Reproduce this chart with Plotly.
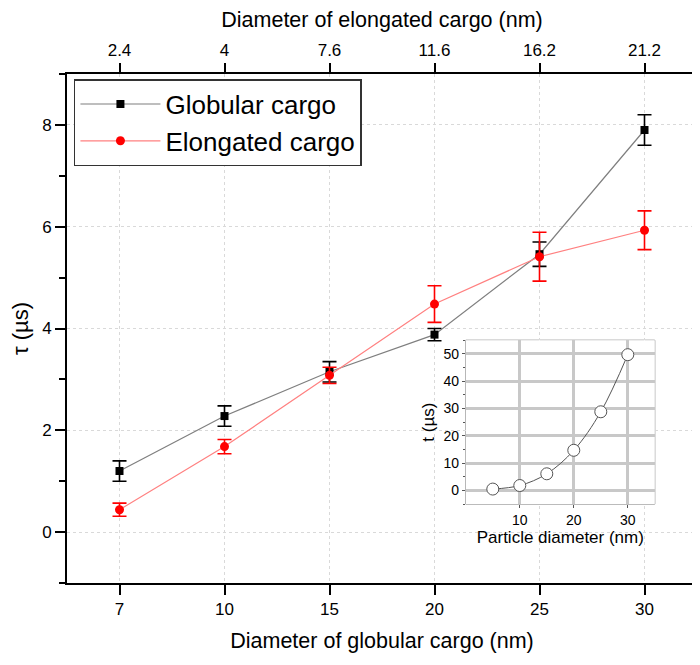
import plotly.graph_objects as go

# main chart data
glob_diam = ["7", "10", "15", "20", "25", "30"]
elong_diam = ["2.4", "4", "7.6", "11.6", "16.2", "21.2"]
glob_tau = [1.2, 2.28, 3.15, 3.88, 5.46, 7.9]
glob_err = [0.2, 0.2, 0.2, 0.12, 0.24, 0.3]
elong_tau = [0.44, 1.68, 3.08, 4.48, 5.41, 5.93]
elong_err = [0.13, 0.14, 0.16, 0.36, 0.48, 0.38]

# inset data
inset_d = [5, 10, 15, 20, 25, 30]
inset_t = [0.5, 1.8, 6.1, 14.7, 28.8, 49.7]

FONT = "Arial, Liberation Sans, sans-serif"

fig = go.Figure()

fig.add_trace(go.Scatter(
    x=glob_diam, y=glob_tau, name="Globular cargo",
    mode="lines+markers",
    line=dict(color="#7f7f7f", width=1.2),
    marker=dict(symbol="square", size=8, color="black"),
    error_y=dict(type="data", array=glob_err, color="black", thickness=1.6, width=7),
))
# elongated cargo is plotted against the top (elongated diameter) axis
fig.add_trace(go.Scatter(
    x=elong_diam, y=elong_tau, name="Elongated cargo", xaxis="x2",
    mode="lines+markers",
    line=dict(color="#ff8080", width=1.2),
    marker=dict(symbol="circle", size=9, color="#ff0000"),
    error_y=dict(type="data", array=elong_err, color="#ff0000", thickness=1.6, width=7),
))

# inset
fig.add_trace(go.Scatter(
    x=inset_d, y=inset_t, xaxis="x3", yaxis="y3",
    mode="lines+markers", line_shape="spline", showlegend=False,
    line=dict(color="#555555", width=1),
    marker=dict(symbol="circle", size=12, color="white",
                line=dict(color="#555555", width=1)),
))

fig.add_shape(type="rect", xref="x3 domain", yref="y3 domain",
              x0=0, x1=1, y0=0, y1=1, layer="below",
              fillcolor="white", line=dict(color="#808080", width=1))

tick_style = dict(ticks="outside", ticklen=10, tickwidth=2, tickcolor="black",
                  tickfont=dict(size=17), automargin=False)

# page body adds an 8px margin, so the figure is sized 8px smaller each way
fig.update_layout(
    width=692, height=657,
    margin=dict(l=59, r=3, t=66, b=82),
    paper_bgcolor="white", plot_bgcolor="white",
    font=dict(family=FONT, color="black", size=17),
    xaxis=dict(
        type="category", categoryarray=glob_diam, range=[-0.5, 5.5],
        showline=True, linecolor="black", linewidth=2, mirror=True,
        showgrid=True, gridcolor="#d9d9d9", griddash="dot", gridwidth=1,
        title=dict(text="Diameter of globular cargo (nm)", font=dict(size=21.5), standoff=15),
        **tick_style,
    ),
    xaxis2=dict(
        type="category", categoryarray=elong_diam,
        overlaying="x", side="top", anchor="y", range=[-0.5, 5.5],
        showline=False, showgrid=False, zeroline=False,
        title=dict(text="Diameter of elongated cargo (nm)", font=dict(size=21.5), standoff=15),
        **tick_style,
    ),
    yaxis=dict(
        range=[-1, 9], tick0=0, dtick=2, zeroline=False,
        showline=True, linecolor="black", linewidth=2, mirror=True,
        minor=dict(dtick=1, tick0=0, ticks="outside", ticklen=6, tickcolor="black", showgrid=False),
        showgrid=True, gridcolor="#d9d9d9", griddash="dot", gridwidth=1,
        title=dict(text="τ (µs)", font=dict(size=22), standoff=12),
        **tick_style,
    ),
    xaxis3=dict(
        domain=[0.633, 0.933], anchor="y3", range=[0, 35],
        tickvals=[10, 20, 30], showline=False, zeroline=False,
        ticks="outside", ticklen=3, tickcolor="#555555",
        showgrid=True, gridcolor="#c8c8c8", gridwidth=2.5,
        tickfont=dict(size=14), automargin=False,
        title=dict(text="Particle diameter (nm)", font=dict(size=17), standoff=4),
    ),
    yaxis3=dict(
        domain=[0.155, 0.477], anchor="x3", range=[-5, 55],
        dtick=10, showline=False, zeroline=False,
        ticks="outside", ticklen=3, tickcolor="#555555",
        minor=dict(dtick=5, ticks="outside", ticklen=2, tickcolor="#555555", showgrid=False),
        showgrid=True, gridcolor="#c8c8c8", gridwidth=2.5,
        tickfont=dict(size=14), automargin=False,
        title=dict(text="t (µs)", font=dict(size=17), standoff=4),
    ),
    legend=dict(
        x=0.011, y=0.99, xanchor="left", yanchor="top",
        bgcolor="white", bordercolor="#333333", borderwidth=1.5,
        font=dict(size=26), itemwidth=80,
    ),
)

fig.write_html("out.html")
